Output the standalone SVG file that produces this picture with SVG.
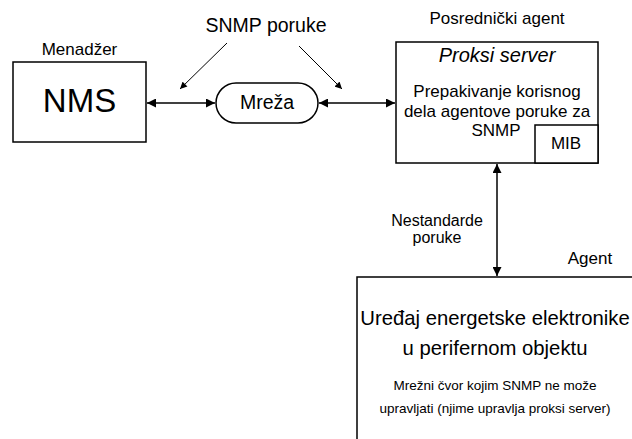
<svg xmlns="http://www.w3.org/2000/svg" width="632" height="439" viewBox="0 0 632 439">
<style>
text{font-family:"Liberation Sans",Arial,sans-serif;fill:#000;text-anchor:middle}
.box{fill:#fff;stroke:#000;stroke-width:1.5}
.ln{stroke:#000;stroke-width:1.5;fill:none}
.thin{stroke:#000;stroke-width:1;fill:none}
.lbl{font-size:17px}
.body{font-size:17px}
</style>
<defs>
<marker id="ah" viewBox="0 0 10 10" refX="10" refY="5" markerWidth="11" markerHeight="9" markerUnits="userSpaceOnUse" orient="auto-start-reverse"><path d="M0,0L10,5L0,10z" fill="#000"/></marker>
<marker id="as" viewBox="0 0 10 10" refX="10" refY="5" markerWidth="8" markerHeight="7" markerUnits="userSpaceOnUse" orient="auto"><path d="M0,0L10,5L0,10z" fill="#000"/></marker>
</defs>
<g id="labels">
<text x="266" y="32" font-size="19.5">SNMP poruke</text>
<text x="79.5" y="55" class="lbl">Menadžer</text>
<text x="497" y="24" class="lbl">Posrednički agent</text>
<text x="590" y="264" class="lbl">Agent</text>
<text x="437" y="226" font-size="16">Nestandarde</text>
<text x="437" y="243" font-size="16">poruke</text>
</g>
<g id="nms">
<rect class="box" x="13" y="62" width="133" height="80"/>
<text x="79.5" y="112" font-size="33">NMS</text>
</g>
<g id="mreza">
<rect class="box" x="216" y="83" width="102" height="40" rx="20"/>
<text x="267" y="109" font-size="19.5">Mreža</text>
</g>
<g id="proxy">
<rect class="box" x="396" y="42" width="202" height="121"/>
<text x="497" y="62" font-size="20" font-style="italic">Proksi server</text>
<text x="497" y="97" class="body">Prepakivanje korisnog</text>
<text x="497" y="117" class="body">dela agentove poruke za</text>
<text x="496" y="136" class="body">SNMP</text>
</g>
<g id="mib">
<rect class="box" x="535" y="125" width="63" height="38"/>
<text x="566" y="149" class="body">MIB</text>
</g>
<g id="agent">
<rect class="box" x="357" y="277" width="290" height="180"/>
<text x="495" y="325" font-size="20.3">Uređaj energetske elektronike</text>
<text x="495" y="355" font-size="20.3">u perifernom objektu</text>
<text x="495" y="390" font-size="13.5">Mrežni čvor kojim SNMP ne može</text>
<text x="495" y="413" font-size="13.5">upravljati (njime upravlja proksi server)</text>
</g>
<g id="connectors">
<line class="ln" x1="147" y1="103" x2="215" y2="103" marker-start="url(#ah)" marker-end="url(#ah)"/>
<line class="ln" x1="319" y1="103" x2="395" y2="103" marker-start="url(#ah)" marker-end="url(#ah)"/>
<line class="ln" x1="497" y1="164" x2="497" y2="276" marker-start="url(#ah)" marker-end="url(#ah)"/>
<line class="thin" x1="227" y1="43" x2="180" y2="89" marker-end="url(#as)"/>
<line class="thin" x1="299" y1="46" x2="342" y2="89" marker-end="url(#as)"/>
</g>
</svg>
